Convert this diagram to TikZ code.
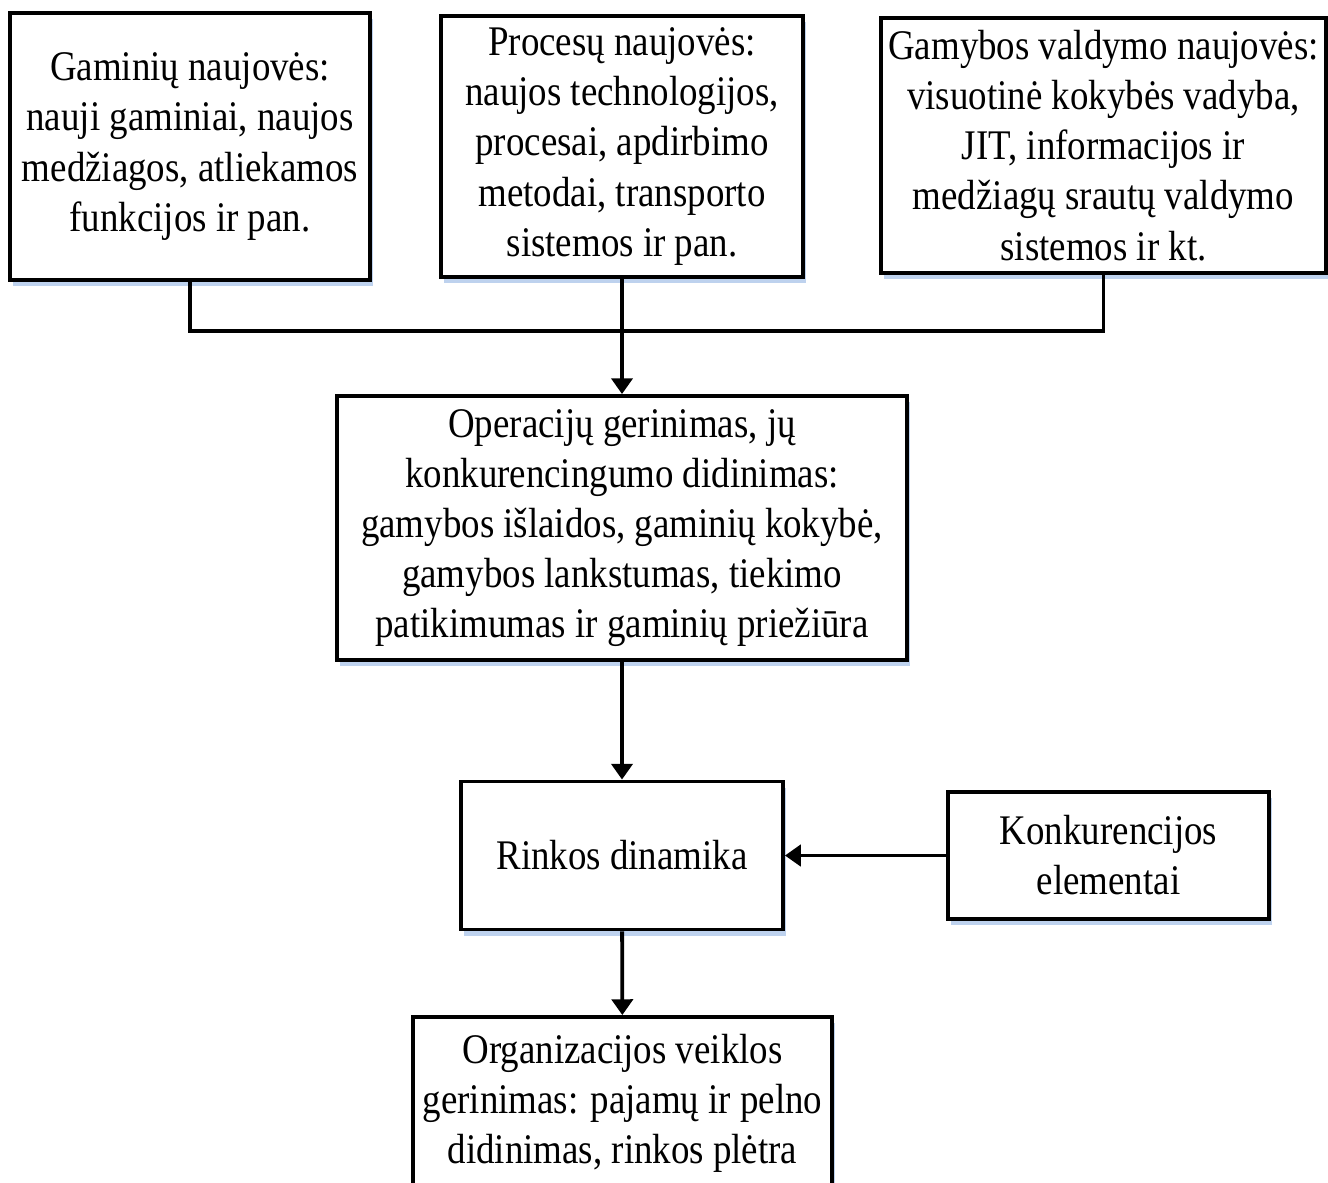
\documentclass[tikz,border=0pt]{standalone}
\usepackage{fontspec}
\setmainfont{Liberation Serif}[FakeStretch=0.875]
\usetikzlibrary{arrows.meta, shadows}
\definecolor{seselis}{RGB}{190,210,238}

\begin{document}
\begin{tikzpicture}[>={Triangle[length=9pt, width=12pt]},
  blok/.style={draw, line width=2.2pt, fill=white, align=center, inner sep=0pt,
    font=\fontsize{24}{28.5}\selectfont,
    drop shadow={shadow xshift=0.05cm, shadow yshift=-0.12cm, fill=seselis, opacity=1}},
  jungtis/.style={line width=2.2pt}]
  \useasboundingbox (0,0) rectangle (26.56,-23.64);
  \clip (0,0) rectangle (26.56,-23.64);

  \node[blok, minimum width=7.20cm, minimum height=5.34cm] (gaminiai) at (3.80,-2.93) {Gaminių naujovės:\\ nauji gaminiai, naujos\\ medžiagos, atliekamos\\ funkcijos ir pan.};
  \node[blok, minimum width=7.24cm, minimum height=5.22cm] (procesai) at (12.44,-2.93) {Procesų naujovės:\\ naujos technologijos,\\ procesai, apdirbimo\\ metodai, transporto\\ sistemos ir pan.};
  \node[blok, minimum width=8.90cm, minimum height=5.10cm] (valdymas) at (22.07,-2.91) {Gamybos valdymo naujovės:\\ visuotinė kokybės vadyba,\\ JIT, informacijos ir\\ medžiagų srautų valdymo\\ sistemos ir kt.};
  \node[blok, minimum width=11.40cm, minimum height=5.28cm] (operacijos) at (12.44,-10.56) {Operacijų gerinimas, jų\\ konkurencingumo didinimas:\\ gamybos išlaidos, gaminių kokybė,\\ gamybos lankstumas, tiekimo\\ patikimumas ir gaminių priežiūra};
  \node[blok, minimum width=6.44cm, minimum height=2.96cm] (rinka) at (12.44,-17.11) {Rinkos dinamika};
  \node[blok, minimum width=6.42cm, minimum height=2.54cm] (konkurencija) at (22.17,-17.11) {Konkurencijos\\ elementai};
  \node[blok, minimum width=8.38cm, minimum height=3.44cm] (organizacija) at (12.45,-22.06) {Organizacijos veiklos\\ gerinimas: pajamų ir pelno\\ didinimas, rinkos plėtra};

  % naujovės -> operacijos
  \coordinate (sandura) at (12.44,-6.62);
  \draw[jungtis] (gaminiai.south) |- (sandura) -| (valdymas.south);
  \draw[jungtis, ->] (procesai) -- (operacijos);
  \draw[jungtis, ->] (operacijos) -- (rinka);
  \draw[jungtis, ->] (konkurencija) -- (rinka);
  \draw[jungtis, ->] (rinka) -- (organizacija);
\end{tikzpicture}
\end{document}
